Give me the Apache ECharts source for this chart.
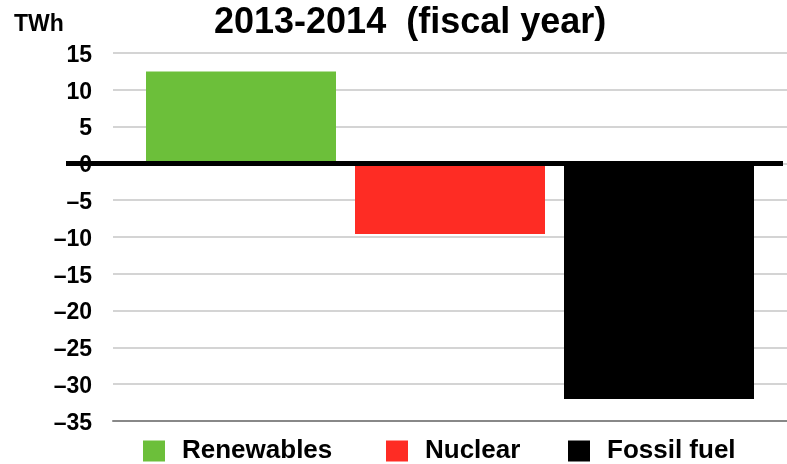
<!DOCTYPE html>
<html>
<head>
<meta charset="utf-8">
<script src="https://cdn.jsdelivr.net/npm/echarts@6/dist/echarts.min.js"></script>
<style>
  html, body { margin: 0; padding: 0; background: #fff; }
  #chart { width: 787px; height: 464px; }
</style>
</head>
<body>
<div id="chart"></div>
<script>
// Change in electricity generation, fiscal 2013-2014 (TWh)
const categories = ['2013-2014'];
const seriesNames = ['Renewables', 'Nuclear', 'Fossil fuel'];
const renewables = [12.5];
const nuclear = [-9.6];
const fossilFuel = [-32.0];
const yTicks = [-35, -30, -25, -20, -15, -10, -5, 0, 5, 10, 15];

const colors = ['#6cbf3a', '#fe2c24', '#000000'];
const values = [renewables, nuclear, fossilFuel];
const FONT = '"Liberation Sans", Arial, Helvetica, sans-serif';

const chart = echarts.init(document.getElementById('chart'), null, { renderer: 'canvas' });

const legendLefts = [138, 381, 563];

chart.setOption({
  animation: false,
  backgroundColor: '#ffffff',
  title: [
    {
      text: '2013-2014  (fiscal year)',
      left: 209, top: 0,
      textStyle: { fontFamily: FONT, fontWeight: 'bold', fontSize: 36, color: '#000' }
    },
    {
      text: 'TWh',
      left: 9, top: 8,
      textStyle: { fontFamily: FONT, fontWeight: 'bold', fontSize: 23, color: '#000' }
    }
  ],
  legend: seriesNames.map((name, i) => ({
    data: [name],
    left: legendLefts[i],
    top: 433,
    itemWidth: 22,
    itemHeight: 21,
    icon: 'rect',
    selectedMode: false,
    textStyle: {
      fontFamily: FONT, fontWeight: 'bold', fontSize: 26, color: '#000',
      padding: [0, 0, 0, 12]
    }
  })),
  grid: { left: 113, right: 0, top: 53, bottom: 43, containLabel: false },
  xAxis: {
    type: 'category',
    data: categories,
    axisLine: { onZero: false, lineStyle: { color: '#888', width: 2 } },
    axisTick: { show: false },
    axisLabel: { show: false },
    splitLine: { show: false }
  },
  yAxis: {
    type: 'value',
    min: yTicks[0],
    max: yTicks[yTicks.length - 1],
    interval: 5,
    axisLine: { show: false },
    axisTick: { show: false },
    axisLabel: {
      margin: 21,
      formatter: v => '{t|' + (v < 0 ? '\u2013' + Math.abs(v) : String(v)) + '}',
      rich: {
        t: {
          fontFamily: FONT, fontWeight: 'bold', fontSize: 23, color: '#000',
          padding: [5, 0, 0, 0]
        }
      }
    },
    splitLine: { lineStyle: { color: '#c6c6c6', width: 1.5 } }
  },
  series: seriesNames.map((name, i) => ({
    name: name,
    type: 'bar',
    data: values[i],
    barWidth: 190,
    barGap: '10%',
    itemStyle: { color: colors[i] }
  }))
});

// Heavy zero baseline, reaching left over the "0" tick label
const zeroY = chart.convertToPixel({ yAxisIndex: 0 }, 0);
chart.setOption({
  graphic: [{
    type: 'line',
    z: 100,
    shape: { x1: 66, y1: zeroY, x2: 783, y2: zeroY },
    style: { stroke: '#000', lineWidth: 5 }
  }]
});
</script>
</body>
</html>
